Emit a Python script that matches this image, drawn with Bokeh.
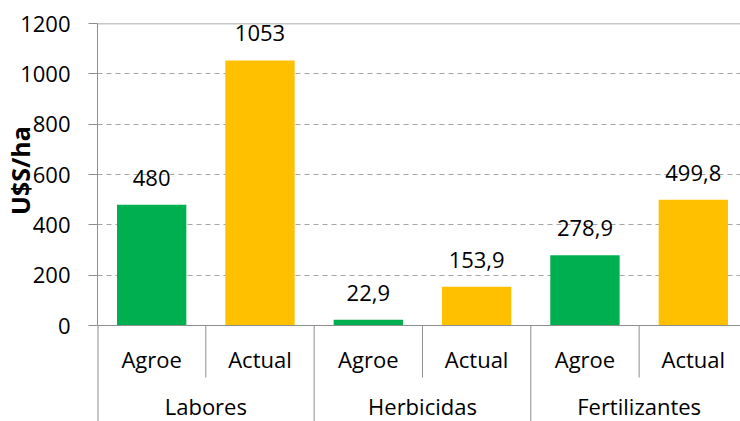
from bokeh.plotting import figure
from bokeh.models import Range1d, FixedTicker, Span, ColumnDataSource
from bokeh.core.properties import value
from bokeh.embed import file_html
from bokeh.resources import INLINE

groups = ["Labores", "Herbicidas", "Fertilizantes"]
subcats = ["Agroe", "Actual"]
values = [480, 1053, 22.9, 153.9, 278.9, 499.8]
value_labels = ["480", "1053", "22,9", "153,9", "278,9", "499,8"]
sub_colors = ["#00B050", "#FFC000"]
y_ticks = [0, 200, 400, 600, 800, 1000, 1200]
y_title = "U$S/ha"

FONT = "Open Sans"
FS = "22px"
AXIS_COLOR = "#8E8E8E"

n = len(groups) * len(subcats)
xs = [i + 0.5 for i in range(n)]
sub_names = [subcats[i % len(subcats)] for i in range(n)]
colors = [sub_colors[i % len(subcats)] for i in range(n)]

src = ColumnDataSource(dict(x=xs, top=values, lab=value_labels, color=colors, sub=sub_names))

W, H = 740, 421
LEFT, TOP, ZERO = 93, 23, 325
px_per_unit = (ZERO - TOP) / 1200.0
y_bottom = -(H - ZERO) / px_per_unit
x_max = (W - LEFT) / 109.0

p = figure(width=W, height=H, output_backend="svg", toolbar_location=None,
           x_range=Range1d(0, x_max), y_range=Range1d(y_bottom, 1200),
           min_border_left=LEFT, min_border_top=TOP, min_border_right=0, min_border_bottom=0)
p.outline_line_color = None
p.xaxis.visible = False
p.xgrid.visible = False
p.ygrid.ticker = FixedTicker(ticks=y_ticks[1:-1])
p.ygrid.grid_line_color = "#A6A6A6"
p.ygrid.grid_line_dash = "5 4"
p.ygrid.grid_line_width = 1

ax = p.yaxis[0]
ax.ticker = FixedTicker(ticks=y_ticks)
ax.bounds = (y_ticks[0], y_ticks[-1])
ax.axis_line_color = AXIS_COLOR
ax.major_tick_line_color = AXIS_COLOR
ax.major_tick_out = 9
ax.major_tick_in = 0
ax.minor_tick_line_color = None
ax.major_label_standoff = 18
ax.major_label_text_font = FONT
ax.major_label_text_font_size = FS
ax.major_label_text_color = "black"
# leading non-breaking spaces lift the rotated title above the frame's centre
ax.axis_label = "\u00a0" * 16 + y_title
ax.axis_label_text_font = FONT
ax.axis_label_text_font_size = "25px"
ax.axis_label_text_font_style = "bold"
ax.axis_label_text_color = "black"
ax.axis_label_standoff = -20

p.vbar(x="x", top="top", bottom=0, width=0.64, color="color", line_color=None, source=src)
p.text(x="x", y="top", text="lab", source=src, text_align="center", text_baseline="middle",
       y_offset=-27, text_font=value(FONT), text_font_size=FS, text_color="black")

p.add_layout(Span(location=0, dimension="width", line_color=AXIS_COLOR, line_width=1))
p.add_layout(Span(location=1200, dimension="width", line_color=AXIS_COLOR, line_width=1.5))

# left axis line continues down through the category area
p.segment(x0=[0], y0=[y_bottom], x1=[0], y1=[0], line_color=AXIS_COLOR, line_width=2)

# category axis below
sub_y = -(358 - ZERO) / px_per_unit
grp_y = -(405 - ZERO) / px_per_unit
p.text(x="x", y=sub_y, text="sub", source=src, text_align="center", text_baseline="middle",
       text_font=value(FONT), text_font_size=FS, text_color="black")
gx = [len(subcats) * g + len(subcats) / 2 for g in range(len(groups))]
p.text(x=gx, y=[grp_y] * len(groups), text=groups, text_align="center", text_baseline="middle",
       text_font=value(FONT), text_font_size=FS, text_color="black")

sub_sep = [len(subcats) * g + 1 for g in range(len(groups))]
p.segment(x0=sub_sep, y0=[0] * len(sub_sep), x1=sub_sep, y1=[-(377 - ZERO) / px_per_unit] * len(sub_sep),
          line_color=AXIS_COLOR, line_width=1)
grp_sep = [len(subcats) * g for g in range(1, len(groups))]
p.segment(x0=grp_sep, y0=[0] * len(grp_sep), x1=grp_sep, y1=[y_bottom] * len(grp_sep),
          line_color=AXIS_COLOR, line_width=1)

open("out.html", "w").write(file_html(p, INLINE))
